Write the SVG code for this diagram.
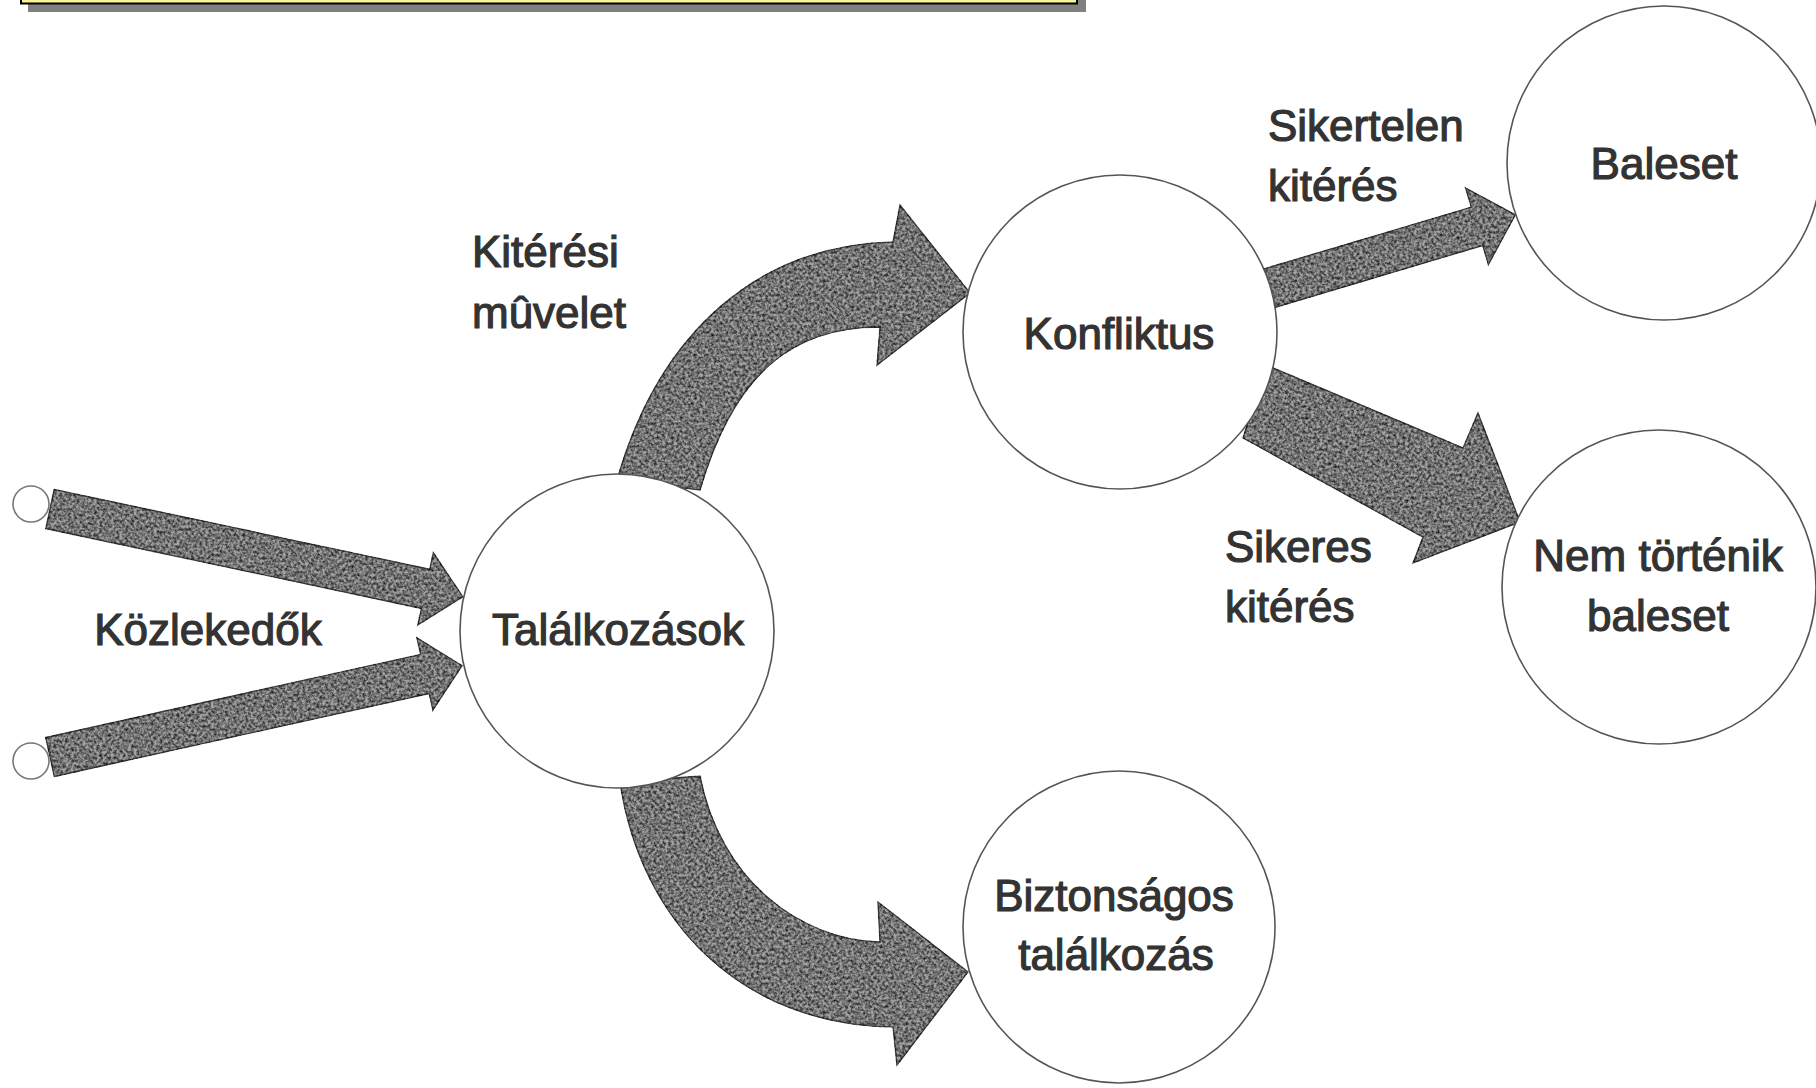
<svg xmlns="http://www.w3.org/2000/svg" width="1816" height="1088" viewBox="0 0 1816 1088">
  <style>
    .node { fill: #ffffff; stroke: #555555; stroke-width: 1.6; }
    .port { fill: #ffffff; stroke: #777777; stroke-width: 1.6; }
    .arrow { fill: #a4a4a4; stroke: #4a4a4a; stroke-width: 1.5; stroke-linejoin: miter; filter: url(#tex); }
    .lbl { font-family: "Liberation Sans", Arial, Helvetica, sans-serif; font-size: 44px; fill: #333333; stroke: #333333; stroke-width: 1.2; }
    .mid { text-anchor: middle; }
  </style>
  <defs>
    <filter id="tex" x="-5%" y="-5%" width="110%" height="110%" color-interpolation-filters="sRGB">
      <feTurbulence type="fractalNoise" baseFrequency="0.35" numOctaves="3" seed="7" result="noise"/>
      <feColorMatrix in="noise" type="matrix" values="1.5 0 0 0 -0.05  1.5 0 0 0 -0.05  1.5 0 0 0 -0.05  0 0 0 0 1" result="gray"/>
      <feBlend in="SourceGraphic" in2="gray" mode="multiply" result="mul"/>
      <feComposite in="mul" in2="SourceAlpha" operator="in"/>
    </filter>
  </defs>
  <rect width="1816" height="1088" fill="#ffffff"/>

  <g id="title-bar">
    <rect x="28" y="-10" width="1058" height="22" fill="#808080"/>
    <rect x="21" y="-10" width="1056" height="13.5" fill="#f8f394" stroke="#000000" stroke-width="2"/>
  </g>

  <g id="connectors">
    <polygon class="arrow" points="54.2,489.4 429.8,569.3 433.3,552.6 462.8,596.7 417.9,625.0 421.4,608.4 45.8,528.6"/>
    <polygon class="arrow" points="45.7,737.5 420.6,654.4 416.9,637.8 462.0,665.7 432.9,710.0 429.2,693.4 54.3,776.5"/>
    <path class="arrow" d="M617,480 C660,330 760,245 893,242 L900,205 L970,293 L877,365 L880,327 C795,327 735,370 700,490 Z"/>
    <path class="arrow" d="M620,782 C640,920 740,1025 893,1027 L897,1065 L968,972 L878,902 L880,942 C800,940 720,880 700,776 Z"/>
    <polygon class="arrow" points="1264.3,268.8 1471.3,207.1 1465.6,188.0 1515.3,214.9 1488.4,264.6 1482.7,245.5 1275.7,307.2"/>
    <polygon class="arrow" points="1266,365 1463,448 1478,413 1520,522 1413,563 1423,537 1243,438"/>
  </g>

  <g id="source-1"><circle class="port" cx="31" cy="504" r="18"/></g>
  <g id="source-2"><circle class="port" cx="31" cy="761" r="18"/></g>

  <g id="label-kozlekedok"><text class="lbl mid" x="208" y="645">Közlekedők</text></g>

  <g id="node-talalkozasok">
    <circle class="node" cx="617" cy="631" r="157"/>
    <text class="lbl mid" x="618" y="645">Találkozások</text>
  </g>

  <g id="label-kiteresi">
    <text class="lbl" x="472" y="267">Kitérési</text>
    <text class="lbl" x="472" y="328">mûvelet</text>
  </g>

  <g id="node-konfliktus">
    <circle class="node" cx="1120" cy="332" r="157"/>
    <text class="lbl mid" x="1119" y="349">Konfliktus</text>
  </g>

  <g id="label-sikertelen">
    <text class="lbl" x="1268" y="141">Sikertelen</text>
    <text class="lbl" x="1268" y="201">kitérés</text>
  </g>

  <g id="node-baleset">
    <circle class="node" cx="1664" cy="163" r="157"/>
    <text class="lbl mid" x="1664" y="179">Baleset</text>
  </g>

  <g id="label-sikeres">
    <text class="lbl" x="1225" y="562">Sikeres</text>
    <text class="lbl" x="1225" y="622">kitérés</text>
  </g>

  <g id="node-nem-tortenik">
    <circle class="node" cx="1659" cy="587" r="157"/>
    <text class="lbl mid" x="1658" y="571">Nem történik</text>
    <text class="lbl mid" x="1658" y="631">baleset</text>
  </g>

  <g id="node-biztonsagos">
    <circle class="node" cx="1119" cy="927" r="156"/>
    <text class="lbl mid" x="1114" y="911">Biztonságos</text>
    <text class="lbl mid" x="1116" y="970">találkozás</text>
  </g>
</svg>
